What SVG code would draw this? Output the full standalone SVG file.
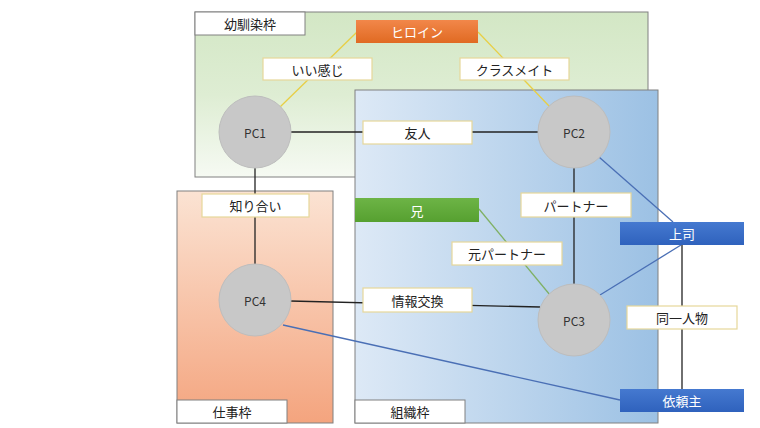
<svg xmlns="http://www.w3.org/2000/svg" width="760" height="428" viewBox="0 0 760 428">
<defs>
<linearGradient id="gGreen" x1="0" y1="0" x2="0" y2="1">
<stop offset="0" stop-color="#d3e7c5"/>
<stop offset="0.5" stop-color="#deedd3"/>
<stop offset="1" stop-color="#f6faf3"/>
</linearGradient>
<linearGradient id="gOrange" x1="0" y1="0" x2="0" y2="1">
<stop offset="0" stop-color="#fbe3d3"/>
<stop offset="1" stop-color="#f4a47e"/>
</linearGradient>
<linearGradient id="gBlue" x1="0" y1="0" x2="1" y2="0">
<stop offset="0" stop-color="#dde9f6"/>
<stop offset="1" stop-color="#9cc1e4"/>
</linearGradient>
<linearGradient id="gHero" x1="0" y1="0" x2="0" y2="1">
<stop offset="0" stop-color="#f2874a"/>
<stop offset="1" stop-color="#e06a22"/>
</linearGradient>
<linearGradient id="gBro" x1="0" y1="0" x2="0" y2="1">
<stop offset="0" stop-color="#6db446"/>
<stop offset="1" stop-color="#56a030"/>
</linearGradient>
<linearGradient id="gBoss" x1="0" y1="0" x2="0" y2="1">
<stop offset="0" stop-color="#4579d0"/>
<stop offset="1" stop-color="#2f62bd"/>
</linearGradient>
</defs>
<style>
text{font-family:"Noto Sans CJK JP","Noto Sans",sans-serif;text-anchor:middle;dominant-baseline:central}
.frame{stroke:#808080;stroke-width:1}
.flabel{fill:#fff;stroke:#808080;stroke-width:1}
.ftext{font-size:13px;fill:#222}
.lbl{fill:#fff;stroke:#e6d79a;stroke-width:1.2}
.ltext{font-size:13px;fill:#222}
.pc{fill:#c8c8c8;stroke:#bdbdbd;stroke-width:1}
.pctext{font-size:12px;fill:#333}
.cbox{stroke:none}
.ctext{font-size:13px;fill:#fff}
.black{stroke:#222;stroke-width:1.3;fill:none}
.yellow{stroke:#e8cf45;stroke-width:1.3;fill:none}
.green{stroke:#7fb064;stroke-width:1.3;fill:none}
.blue{stroke:#4a6fb5;stroke-width:1.3;fill:none}
</style>
<rect width="760" height="428" fill="#fff"/>
<g id="frame-osananajimi">
<rect class="frame" x="195" y="12" width="453" height="165" fill="url(#gGreen)"/>
<rect class="flabel" x="195" y="12" width="110" height="23"/>
<text class="ftext" x="250" y="23.5">幼馴染枠</text>
</g>
<g id="frame-shigoto">
<rect class="frame" x="177" y="191" width="156" height="232" fill="url(#gOrange)"/>
<rect class="flabel" x="177" y="400" width="110" height="23"/>
<text class="ftext" x="232" y="411.5">仕事枠</text>
</g>
<g id="frame-soshiki">
<rect class="frame" x="355" y="90" width="303" height="333" fill="url(#gBlue)"/>
<rect class="flabel" x="355" y="400" width="110" height="23"/>
<text class="ftext" x="410" y="411.5">組織枠</text>
</g>
<g id="connectors">
<line class="yellow" x1="357" y1="32" x2="280" y2="107"/>
<line class="yellow" x1="478" y1="32" x2="550" y2="107"/>
<line class="black" x1="291" y1="132" x2="538" y2="132"/>
<line class="black" x1="255" y1="168" x2="255" y2="264"/>
<line class="black" x1="574" y1="168" x2="574" y2="284"/>
<line class="black" x1="290" y1="301" x2="540" y2="307"/>
<line class="green" x1="479" y1="209" x2="550" y2="295"/>
<line class="blue" x1="599" y1="157" x2="673" y2="222"/>
<line class="blue" x1="600" y1="295" x2="681" y2="245"/>
<line class="black" x1="682" y1="245" x2="682" y2="389"/>
<line class="blue" x1="283" y1="325" x2="620" y2="400"/>
</g>
<g id="lbl-iikanji">
<rect class="lbl" x="263" y="58" width="109" height="22"/>
<text class="ltext" x="317.5" y="69">いい感じ</text>
</g>
<g id="lbl-classmate">
<rect class="lbl" x="460" y="58" width="109" height="22"/>
<text class="ltext" x="514.5" y="69">クラスメイト</text>
</g>
<g id="lbl-yujin">
<rect class="lbl" x="363" y="121" width="109" height="23"/>
<text class="ltext" x="417.5" y="132.5">友人</text>
</g>
<g id="lbl-shiriai">
<rect class="lbl" x="202" y="194" width="107" height="23"/>
<text class="ltext" x="255.5" y="205.5">知り合い</text>
</g>
<g id="lbl-partner">
<rect class="lbl" x="521" y="193" width="110" height="24"/>
<text class="ltext" x="576" y="205">パートナー</text>
</g>
<g id="lbl-motopartner">
<rect class="lbl" x="452" y="242" width="110" height="23"/>
<text class="ltext" x="507" y="253.5">元パートナー</text>
</g>
<g id="lbl-johokokan">
<rect class="lbl" x="363" y="288" width="109" height="24"/>
<text class="ltext" x="417.5" y="300">情報交換</text>
</g>
<g id="lbl-doitsu">
<rect class="lbl" x="627" y="306" width="110" height="23"/>
<text class="ltext" x="682" y="317.5">同一人物</text>
</g>
<g id="heroine">
<rect class="cbox" x="356" y="20" width="122" height="23" fill="url(#gHero)"/>
<text class="ctext" x="417" y="31.5">ヒロイン</text>
</g>
<g id="ani">
<rect class="cbox" x="355" y="198" width="124" height="24" fill="url(#gBro)"/>
<text class="ctext" x="417" y="210">兄</text>
</g>
<g id="joshi">
<rect class="cbox" x="620" y="222" width="124" height="23" fill="url(#gBoss)"/>
<text class="ctext" x="682" y="233.5">上司</text>
</g>
<g id="irainushi">
<rect class="cbox" x="620" y="389" width="124" height="23" fill="url(#gBoss)"/>
<text class="ctext" x="682" y="400.5">依頼主</text>
</g>
<g id="pc1">
<circle class="pc" cx="255" cy="132" r="36"/>
<text class="pctext" x="255" y="132">PC1</text>
</g>
<g id="pc2">
<circle class="pc" cx="574" cy="132" r="36"/>
<text class="pctext" x="574" y="132">PC2</text>
</g>
<g id="pc3">
<circle class="pc" cx="574" cy="320" r="36"/>
<text class="pctext" x="574" y="320">PC3</text>
</g>
<g id="pc4">
<circle class="pc" cx="255" cy="300" r="36"/>
<text class="pctext" x="255" y="300">PC4</text>
</g>
</svg>
